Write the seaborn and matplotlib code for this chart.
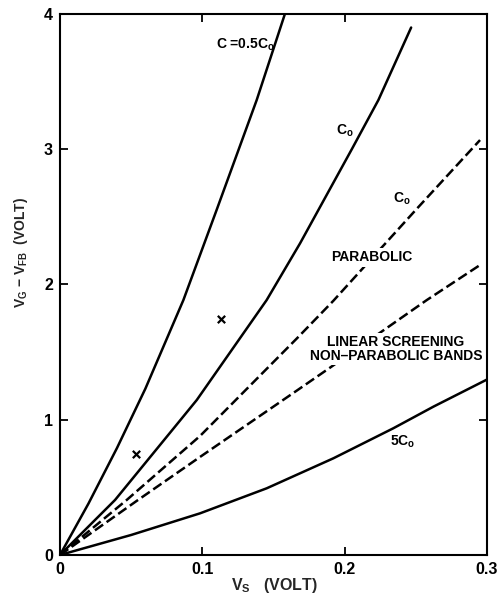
import matplotlib
matplotlib.use("Agg")
import matplotlib.pyplot as plt
import seaborn as sns

# curves (V_S in volt, V_G - V_FB in volt)
vs_half = [0, 0.02, 0.04, 0.06, 0.0867, 0.11, 0.1382, 0.158]
vg_half = [0, 0.38, 0.79, 1.23, 1.885, 2.55, 3.364, 4.0]

vs_c0 = [0, 0.0387, 0.084, 0.0961, 0.1452, 0.1687, 0.205, 0.2237, 0.2467]
vg_c0 = [0, 0.407, 0.99, 1.146, 1.885, 2.305, 3.0, 3.364, 3.90]

vs_parab = [0, 0.0469, 0.0984, 0.1663, 0.1921, 0.2507, 0.2951]
vg_parab = [0, 0.407, 0.88, 1.60, 1.88, 2.56, 3.068]

vs_nonparab = [0, 0.0539, 0.0984, 0.1663, 0.1897, 0.2577, 0.2951]
vg_nonparab = [0, 0.40, 0.725, 1.215, 1.385, 1.885, 2.144]

vs_5c0 = [0, 0.05, 0.0984, 0.1452, 0.1921, 0.2342, 0.2624, 0.3003]
vg_5c0 = [0, 0.148, 0.308, 0.493, 0.715, 0.937, 1.097, 1.299]

# the two "x" points
vs_pts = [0.0536, 0.113]
vg_pts = [0.746, 1.743]

xticks = [0, 0.1, 0.2, 0.3]
xticklabels = ["0", "0.1", "0.2", "0.3"]
yticks = [0, 1, 2, 3, 4]
yticklabels = ["0", "1", "2", "3", "4"]

sns.set_theme(style="ticks")
plt.rcParams['font.family'] = ['Liberation Sans', 'DejaVu Sans']
plt.rcParams['font.weight'] = 'bold'
plt.rcParams['mathtext.fontset'] = 'custom'
plt.rcParams['mathtext.rm'] = 'Liberation Sans:bold'
plt.rcParams['mathtext.it'] = 'Liberation Sans:bold'
plt.rcParams['mathtext.bf'] = 'Liberation Sans:bold'
plt.rcParams['mathtext.default'] = 'rm'

fig = plt.figure(figsize=(4.97, 5.93), dpi=100)
ax = fig.add_axes([0.1207, 0.0641, 0.8592, 0.9123])

lw = 1.8
dash = (0, (4, 1.7))
sns.lineplot(x=vs_half, y=vg_half, ax=ax, color='black', lw=lw, sort=False, estimator=None)
sns.lineplot(x=vs_c0, y=vg_c0, ax=ax, color='black', lw=lw, sort=False, estimator=None)
sns.lineplot(x=vs_5c0, y=vg_5c0, ax=ax, color='black', lw=lw, sort=False, estimator=None)
sns.lineplot(x=vs_parab, y=vg_parab, ax=ax, color='black', lw=lw, sort=False,
             estimator=None, linestyle=dash)
sns.lineplot(x=vs_nonparab, y=vg_nonparab, ax=ax, color='black', lw=lw, sort=False,
             estimator=None, linestyle=dash)
sns.scatterplot(x=vs_pts, y=vg_pts, ax=ax, marker='x', color='black', s=28, linewidth=1.6)

txt = dict(fontsize=10, fontweight='bold', color='black')
gap = dict(facecolor='white', edgecolor='none', pad=1.5)  # the curves break under these labels
ax.text(0.151, 3.77, r"C =0.5C$_\mathrm{o}$", ha='right', va='center', **txt)
ax.text(0.200, 3.14, r"C$_\mathrm{o}$", ha='center', va='center', **txt)
ax.text(0.240, 2.63, r"C$_\mathrm{o}$", ha='center', va='center', **txt)
ax.text(0.219, 2.20, "PARABOLIC", ha='center', va='center', bbox=gap, **txt)
ax.text(0.236, 1.52, "LINEAR SCREENING\nNON\u2013PARABOLIC BANDS", ha='center', va='center',
        linespacing=1.0, bbox=gap, **txt)
ax.text(0.241, 0.84, r"5C$_\mathrm{o}$", ha='center', va='center', **txt)

ax.set_xlim(0, 0.3)
ax.set_ylim(0, 4)
ax.set_xticks(xticks)
ax.set_xticklabels(xticklabels)
ax.set_yticks(yticks)
ax.set_yticklabels(yticklabels)
ax.tick_params(direction='in', length=6, width=1.3, top=True, right=True,
               labelsize=11.5, pad=5, colors='black')
for lab in ax.get_xticklabels() + ax.get_yticklabels():
    lab.set_fontweight('bold')
for sp in ax.spines.values():
    sp.set_linewidth(1.5)
    sp.set_color('black')

ax.set_xlabel(r"V$_\mathrm{S}$   (VOLT)", fontsize=11.5, fontweight='bold')
ax.set_ylabel(r"V$_\mathrm{G}$ $-$ V$_\mathrm{FB}$  (VOLT)", fontsize=10, fontweight='bold')
ax.xaxis.set_label_coords(0.503, -0.038)
ax.yaxis.set_label_coords(-0.07, 0.56)

plt.savefig("out.png", dpi=100)
